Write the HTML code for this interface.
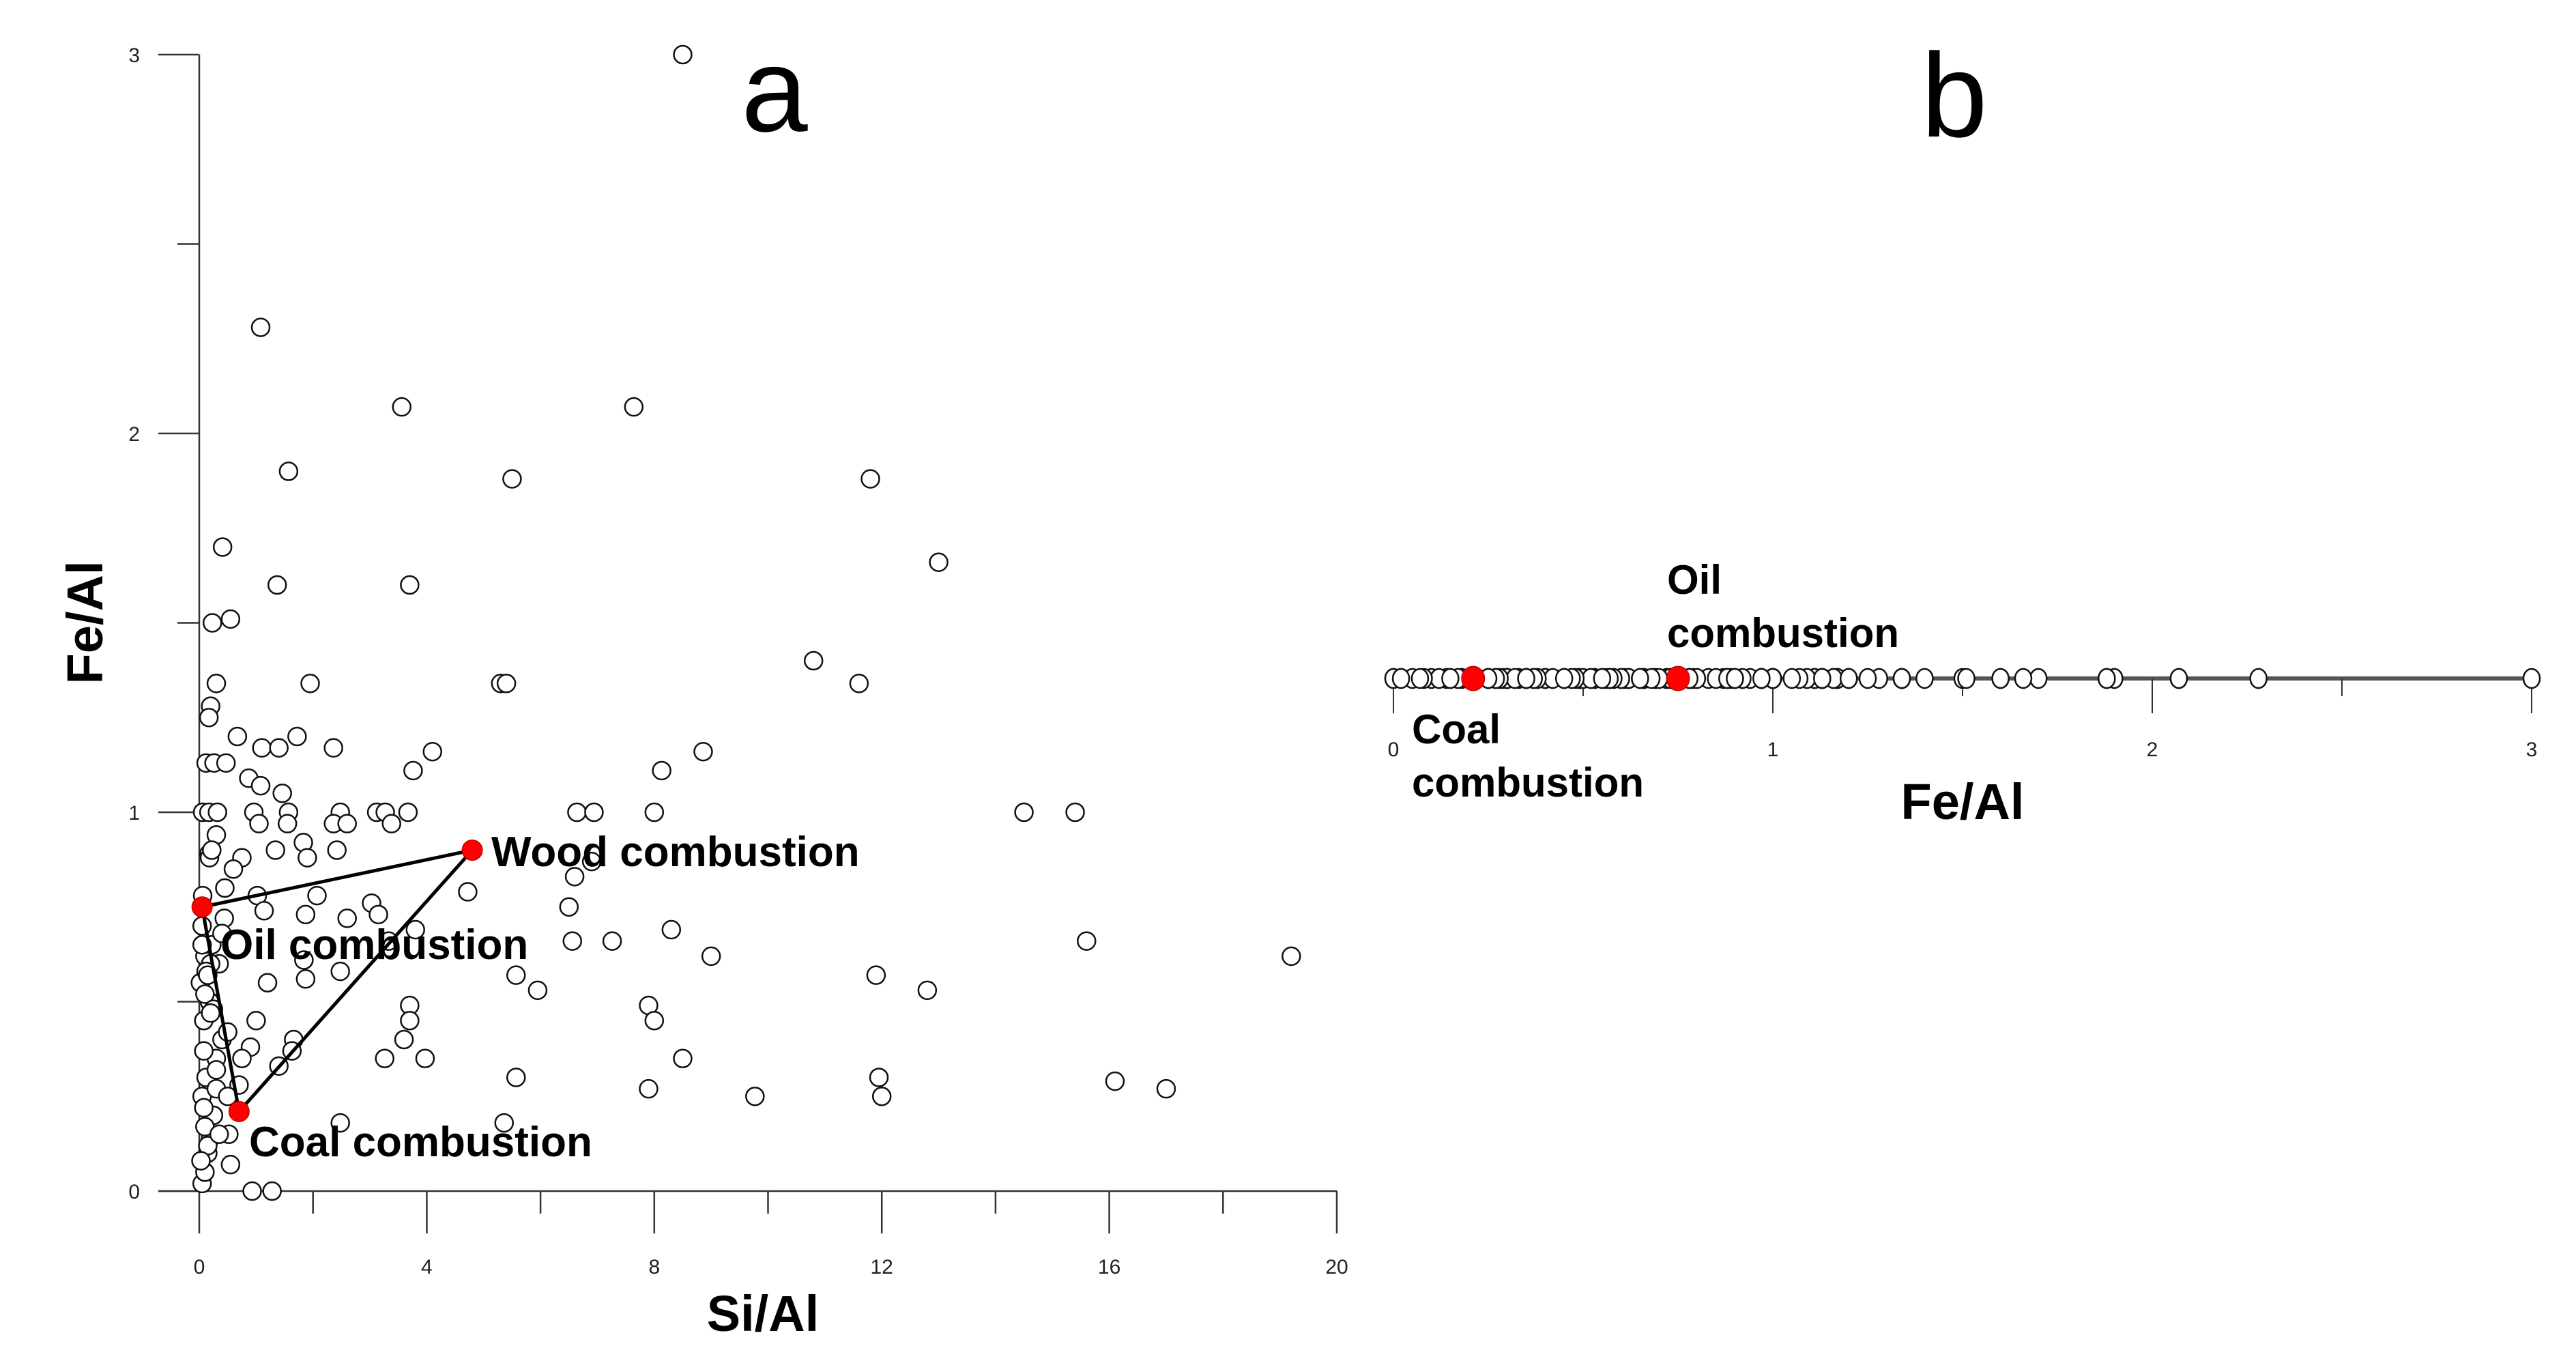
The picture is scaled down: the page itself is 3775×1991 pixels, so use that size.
<!DOCTYPE html>
<html><head><meta charset="utf-8"><style>
html,body{margin:0;padding:0;background:#fff;}
svg{display:block;font-family:"Liberation Sans",Arial,sans-serif;}
</style></head><body>
<svg id="chart" width="3775" height="1991" viewBox="0 0 3775 1991" xmlns="http://www.w3.org/2000/svg">
<g id="pa"></g>
<g id="pb"></g>
</svg>
<script>
const siAl=[8.5,1.08,3.56,7.64,1.57,5.5,11.8,0.41,13.0,1.37,3.7,0.23,0.55,10.8,1.95,5.3,5.4,11.6,0.3,0.2,0.17,0.67,1.72,1.1,1.4,2.36,4.1,8.86,0.12,0.26,0.47,3.76,8.13,0.87,1.08,1.46,0.06,0.17,0.32,0.96,1.57,2.48,3.12,3.27,3.67,6.64,6.94,8.0,14.5,15.4,1.05,1.55,2.36,3.38,0.3,1.83,2.6,0.17,0.75,1.34,1.9,2.42,6.9,4.72,6.6,1.02,2.07,3.03,0.44,1.14,1.87,2.6,3.15,3.8,6.5,8.3,6.56,7.26,9.0,15.6,19.2,1.84,1.87,2.48,3.33,5.57,11.9,5.95,12.8,3.7,3.7,7.9,8.0,1.66,3.26,3.6,3.97,8.5,1.4,1.63,5.57,11.95,16.1,7.9,12.0,9.77,17.0,2.48,5.36,0.52,0.93,1.28,0.05,0.1,0.15,0.2,0.25,0.05,0.12,0.3,0.4,0.08,0.18,0.02,0.35,0.1,0.22,0.05,0.45,0.6,0.15,0.08,0.3,0.5,0.1,0.2,0.03,0.7,0.9,0.25,0.12,0.4,0.06,0.18,0.55,0.1,0.3,0.08,0.2,0.15,0.35,0.5,0.75,1.0,1.2,0.05,0.22];
const feAl=[3.0,2.28,2.07,2.07,1.9,1.88,1.88,1.7,1.66,1.6,1.6,1.5,1.51,1.4,1.34,1.34,1.34,1.34,1.34,1.28,1.25,1.2,1.2,1.17,1.17,1.17,1.16,1.16,1.13,1.13,1.13,1.11,1.11,1.09,1.07,1.05,1.0,1.0,1.0,1.0,1.0,1.0,1.0,1.0,1.0,1.0,1.0,1.0,1.0,1.0,0.97,0.97,0.97,0.97,0.94,0.92,0.97,0.89,0.88,0.9,0.88,0.9,0.87,0.79,0.83,0.78,0.78,0.76,0.72,0.74,0.73,0.72,0.73,0.69,0.75,0.69,0.66,0.66,0.62,0.66,0.62,0.61,0.56,0.58,0.66,0.57,0.57,0.53,0.53,0.49,0.45,0.49,0.45,0.4,0.35,0.4,0.35,0.35,0.33,0.37,0.3,0.3,0.29,0.27,0.25,0.25,0.27,0.18,0.18,0.15,0.0,0.0,0.02,0.05,0.1,0.14,0.2,0.25,0.3,0.35,0.4,0.45,0.5,0.55,0.6,0.62,0.65,0.7,0.8,0.85,0.12,0.22,0.32,0.42,0.52,0.6,0.08,0.28,0.38,0.48,0.58,0.68,0.78,0.88,0.07,0.17,0.27,0.37,0.47,0.57,0.15,0.25,0.35,0.45,0.55,0.65,0.9,1.13,1.2,0.02];
const sourceNames=["Wood combustion","Oil combustion","Coal combustion"];
const sourceSi=[4.8,0.05,0.7];
const sourceFe=[0.9,0.75,0.21];
const xTicksA=[0,4,8,12,16,20];
const yTicksA=[0,1,2,3];
const xTicksB=[0,1,2,3];

const NS="http://www.w3.org/2000/svg";
function mk(parent,tag,attrs,text){const e=document.createElementNS(NS,tag);for(const k in attrs)e.setAttribute(k,attrs[k]);if(text!==undefined)e.textContent=text;parent.appendChild(e);return e;}
const xA=v=>292+v*83.35, yA=v=>1745-v*555;
const xB=v=>2042+v*556;
const pa=document.getElementById('pa'), pb=document.getElementById('pb');
let e;
// panel a axes
e=mk(pa,'line',{x1:292,y1:yA(3),x2:292,y2:yA(0)+0,stroke:'#333','stroke-width':2.5});


e=mk(pa,'line',{x1:232,y1:1745,x2:xA(20),y2:1745,stroke:'#333','stroke-width':2.5});


for(let v=0;v<=20;v+=2){const major=v%4===0;
 e=mk(pa,'line',{x1:xA(v),y1:1745,x2:xA(v),y2:major?1807:1778,stroke:'#333','stroke-width':2.5});
 
 }
xTicksA.forEach(v=>{e=mk(pa,'text',{x:xA(v),y:1866,'font-size':30,'text-anchor':'middle',fill:'#222'},String(v));
 
 });
for(let v=0;v<=3;v+=0.5){const major=v%1===0;
 e=mk(pa,'line',{x1:major?232:260,y1:yA(v),x2:292,y2:yA(v),stroke:'#333','stroke-width':2.5});
 
 }
yTicksA.forEach(v=>{e=mk(pa,'text',{x:205,y:yA(v)+11,'font-size':30,'text-anchor':'end',fill:'#222'},String(v));
 
 });
siAl.forEach((s,i)=>{e=mk(pa,'circle',{cx:xA(s),cy:yA(feAl[i]),r:13,fill:'#fff',stroke:'#111','stroke-width':2.5});
 
 });
// triangle
e=mk(pa,'polygon',{points:sourceSi.map((s,i)=>xA(s)+','+yA(sourceFe[i])).join(' '),fill:'none',stroke:'#000','stroke-width':5});


const labPos=[[720,1269],[323,1405],[365,1694]];
sourceSi.forEach((s,i)=>{e=mk(pa,'circle',{cx:xA(s),cy:yA(sourceFe[i]),r:15,fill:'#f00',stroke:'#a00','stroke-width':1});
 
 
 e=mk(pa,'text',{x:labPos[i][0],y:labPos[i][1],'font-size':62,'font-weight':'bold',fill:'#000'},sourceNames[i]);
 
 });
e=mk(pa,'text',{x:1118,y:1950,'font-size':74,'font-weight':'bold','text-anchor':'middle'},'Si/Al');


e=mk(pa,'text',{x:0,y:0,'font-size':74,'font-weight':'bold','text-anchor':'middle',transform:'translate(150,912) rotate(-90)'},'Fe/Al');


e=mk(pa,'text',{x:1135,y:192,'font-size':175,'text-anchor':'middle'},'a');


// panel b
const yB=994;
e=mk(pb,'line',{x1:xB(0),y1:yB,x2:xB(3),y2:yB,stroke:'#555','stroke-width':6});


for(let v=0;v<=3;v+=0.5){const major=v%1===0;
 e=mk(pb,'line',{x1:xB(v),y1:yB,x2:xB(v),y2:major?1045:1020,stroke:'#333','stroke-width':2});
 
 }
xTicksB.forEach(v=>{e=mk(pb,'text',{x:xB(v),y:1108,'font-size':30,'text-anchor':'middle',fill:'#222'},String(v));
 
 });
feAl.forEach(f=>{e=mk(pb,'ellipse',{cx:xB(f),cy:yB,rx:12,ry:14,fill:'#fff',stroke:'#111','stroke-width':2.5});
 
 });
[1,2].forEach(i=>{e=mk(pb,'ellipse',{cx:xB(sourceFe[i]),cy:yB,rx:17,ry:18,fill:'#f00',stroke:'#a00','stroke-width':1});
 
 });
e=mk(pb,'text',{x:2443,y:870,'font-size':60,'font-weight':'bold'},'Oil');


e=mk(pb,'text',{x:2443,y:948,'font-size':60,'font-weight':'bold'},'combustion');


e=mk(pb,'text',{x:2069,y:1089,'font-size':60,'font-weight':'bold'},'Coal');


e=mk(pb,'text',{x:2069,y:1167,'font-size':60,'font-weight':'bold'},'combustion');


e=mk(pb,'text',{x:2876,y:1200,'font-size':74,'font-weight':'bold','text-anchor':'middle'},'Fe/Al');


e=mk(pb,'text',{x:2864,y:200,'font-size':175,'text-anchor':'middle'},'b');


</script>
</body></html>
